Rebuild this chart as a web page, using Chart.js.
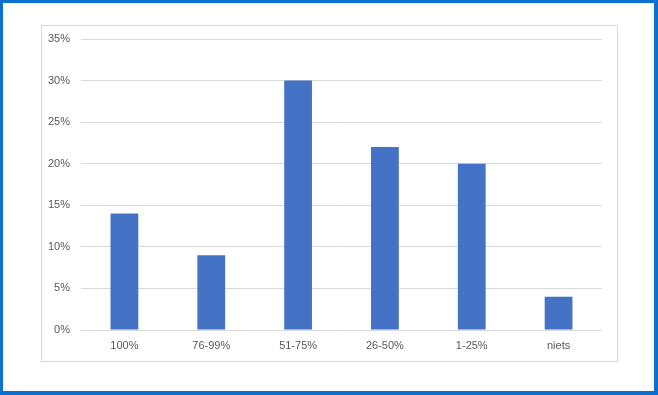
<!DOCTYPE html>
<html>
<head>
<meta charset="utf-8">
<script src="https://cdn.jsdelivr.net/npm/chart.js@4"></script>
<style>
    html, body { margin: 0; padding: 0; background: #fff; }
    .outer {
        position: absolute; left: 0; top: 0;
        width: 658px; height: 395px; box-sizing: border-box;
        border-style: solid; border-color: #0b70d0;
        border-width: 3px 4px 4px 3px;
    }
    .frame {
        position: absolute; left: 41px; top: 25px;
        width: 577px; height: 337px; box-sizing: border-box;
        border: 1px solid #d9d9d9;
    }
    canvas { display: block; }
</style>
</head>
<body>
<div class="outer"></div>
<div class="frame">
    <canvas id="barChart" width="575" height="335"></canvas>
</div>
<script>
const categories = ['100%', '76-99%', '51-75%', '26-50%', '1-25%', 'niets'];
const percentages = [14, 9, 30, 22, 20, 4];
const yTicks = [0, 5, 10, 15, 20, 25, 30, 35];

const labelFont = { family: 'Liberation Sans', size: 11 };

const ctx = document.getElementById('barChart').getContext('2d');

new Chart(ctx, {
    type: 'bar',
    data: {
        labels: categories,
        datasets: [{
            data: percentages,
            backgroundColor: '#4472c4',
            borderWidth: 0,
            categoryPercentage: 1,
            barPercentage: 0.32
        }]
    },
    options: {
        responsive: false,
        animation: false,
        layout: { padding: { left: 0, top: 13, right: 15, bottom: 0 } },
        plugins: {
            legend: { display: false },
            tooltip: { enabled: false }
        },
        scales: {
            x: {
                grid: { display: false, drawTicks: false },
                border: { display: false },
                ticks: { color: '#595959', font: labelFont, padding: 9, maxRotation: 0 },
                afterFit: (scale) => {
                    scale.height = 31;
                    scale.paddingLeft = 0;
                    scale.paddingRight = 0;
                }
            },
            y: {
                min: 0,
                max: 35,
                afterBuildTicks: (scale) => { scale.ticks = yTicks.map(v => ({ value: v })); },
                grid: { color: '#d9d9d9', drawTicks: false },
                border: { display: false },
                ticks: {
                    color: '#595959',
                    font: labelFont,
                    padding: 11,
                    callback: (v) => v + '%'
                },
                afterFit: (scale) => {
                    scale.width = 39;
                    scale.paddingTop = 0;
                    scale.paddingBottom = 0;
                }
            }
        }
    }
});
</script>
</body>
</html>
